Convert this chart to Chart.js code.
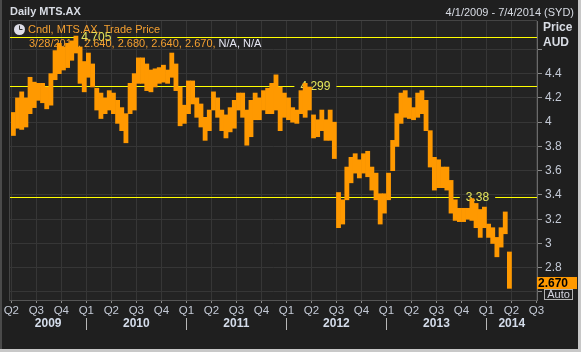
<!DOCTYPE html>
<html>
<head>
<meta charset="utf-8">
<script src="https://cdn.jsdelivr.net/npm/chart.js@4.4.1/dist/chart.umd.min.js"></script>
<style>
  html, body { margin: 0; padding: 0; background: #1f1f1f; }
  canvas { display: block; }
</style>
</head>
<body>
<canvas id="chart" width="581" height="352"></canvas>
<script>
// MTS.AX trade price, low/high per half-month from Apr 2009
const lows = [
  3.89, 3.95, 3.94, 3.96, 4.07, 4.12, 4.18, 4.16, 4.11, 4.14,
  4.35, 4.40, 4.43, 4.45, 4.51, 4.57, 4.32, 4.25, 4.37, 4.29,
  4.10, 4.03, 4.07, 4.10, 4.07, 3.99, 3.93, 3.83, 4.07, 4.10,
  4.32, 4.32, 4.26, 4.25, 4.29, 4.32, 4.33, 4.32, 4.37, 4.26,
  3.97, 3.99, 4.07, 4.15, 4.04, 3.96, 3.85, 3.93, 4.10, 4.04,
  3.93, 3.87, 3.92, 3.95, 4.10, 4.04, 3.81, 3.88, 4.02, 4.02,
  4.10, 4.07, 4.07, 4.10, 3.93, 4.04, 4.02, 4.00, 3.99, 4.07,
  4.04, 4.10, 3.87, 3.88, 3.93, 3.85, 3.85, 3.70, 3.13, 3.16,
  3.36, 3.50, 3.58, 3.54, 3.58, 3.55, 3.44, 3.36, 3.16, 3.25,
  3.36, 3.60, 3.80, 3.99, 4.04, 4.03, 4.02, 4.04, 4.07, 3.93,
  3.63, 3.44, 3.46, 3.46, 3.44, 3.25, 3.19, 3.18, 3.18, 3.20,
  3.19, 3.13, 3.05, 3.13, 3.05, 3.00, 2.89, 2.97, 3.08, 2.63
];
const highs = [
  4.08, 4.20, 4.25, 4.20, 4.37, 4.33, 4.32, 4.32, 4.29, 4.40,
  4.59, 4.65, 4.62, 4.65, 4.67, 4.71, 4.62, 4.50, 4.57, 4.48,
  4.28, 4.24, 4.20, 4.26, 4.24, 4.18, 4.12, 4.07, 4.32, 4.40,
  4.53, 4.53, 4.48, 4.43, 4.44, 4.45, 4.47, 4.43, 4.57, 4.48,
  4.29, 4.14, 4.34, 4.34, 4.20, 4.15, 4.04, 4.10, 4.25, 4.20,
  4.10, 4.06, 4.12, 4.18, 4.24, 4.24, 4.10, 4.18, 4.24, 4.20,
  4.26, 4.28, 4.32, 4.39, 4.29, 4.24, 4.20, 4.12, 4.10, 4.26,
  4.32, 4.29, 4.06, 4.02, 4.10, 4.02, 4.10, 4.00, 3.42, 3.36,
  3.63, 3.71, 3.74, 3.69, 3.74, 3.76, 3.63, 3.58, 3.41, 3.41,
  3.58, 3.85, 4.07, 4.24, 4.26, 4.20, 4.12, 4.24, 4.26, 4.18,
  3.93, 3.71, 3.69, 3.63, 3.63, 3.52, 3.36, 3.29, 3.29, 3.29,
  3.37, 3.33, 3.28, 3.30, 3.16, 3.13, 3.05, 3.13, 3.26, 2.93
];
const years = [2009, 2010, 2011, 2012, 2013, 2014];
const yTicks = [2.6, 2.8, 3.0, 3.2, 3.4, 3.6, 3.8, 4.0, 4.2, 4.4, 4.6];
const levels = [4.705, 4.299, 3.38];
const levelLabels = ['4.705', '4.299', '3.38'];
const levelLabelAt = [2010.10, 2012.29, 2013.91];
const lastPrice = 2.670;
const legendValues = ['3/28/2014', '2.640', '2.680', '2.640', '2.670'];

// half-month periods starting 1 Apr 2009 (as fractional years)
const periods = lows.map((_, i) => 2009.25 + (i + 0.5) / 24);
const quarterTicks = [];
for (const yr of years) {
  for (let q = 0; q < 4; q++) {
    const v = yr + q / 4;
    if (v >= 2009.25 && v <= 2014.5) quarterTicks.push(v);
  }
}

const FONT = '"Liberation Sans", Arial, sans-serif';
const ORANGE = '#ff9900';
const X_MIN = 2009.237, X_MAX = 2014.505;

const decorations = {
  id: 'decorations',
  beforeDraw(chart) {
    const { ctx, chartArea: a } = chart;
    ctx.save();
    ctx.fillStyle = '#1f1f1f';
    ctx.fillRect(0, 0, 581, 352);
    ctx.fillStyle = '#4a4a4a';
    ctx.fillRect(0, 0, 2, 349);
    ctx.fillStyle = '#c8c8c8';
    ctx.fillRect(578, 0, 3, 352);
    ctx.fillRect(0, 349, 581, 3);
    ctx.fillStyle = '#232323';
    ctx.fillRect(a.left, a.top, a.right - a.left, a.bottom - a.top);
    ctx.strokeStyle = '#444';
    ctx.lineWidth = 1;
    ctx.strokeRect(a.left - 0.5, a.top - 0.5, a.right - a.left, a.bottom - a.top + 1);
    ctx.restore();
  },
  beforeDatasetsDraw(chart) {
    const { ctx, chartArea: a, scales: { x, y } } = chart;
    ctx.save();
    // horizontal levels with their labels
    ctx.font = '12px ' + FONT;
    ctx.textBaseline = 'middle';
    ctx.textAlign = 'center';
    levels.forEach((v, i) => {
      const py = Math.round(y.getPixelForValue(v)) + 0.5;
      const cx = x.getPixelForValue(levelLabelAt[i]);
      const w = ctx.measureText(levelLabels[i]).width;
      ctx.strokeStyle = '#ffff00';
      ctx.lineWidth = 1;
      ctx.beginPath();
      ctx.moveTo(a.left, py);
      ctx.lineTo(cx - w / 2 - 6, py);
      ctx.moveTo(cx + w / 2 + 6, py);
      ctx.lineTo(a.right, py);
      ctx.stroke();
      ctx.fillStyle = '#e4e65a';
      ctx.fillText(levelLabels[i], cx, py);
    });

    // legend: clock icon + series name + last values
    ctx.fillStyle = '#dcdce6';
    ctx.beginPath();
    ctx.arc(19.5, 29.5, 5.5, 0, Math.PI * 2);
    ctx.fill();
    ctx.strokeStyle = '#333';
    ctx.beginPath();
    ctx.moveTo(19.5, 29.5); ctx.lineTo(19.5, 25.5);
    ctx.moveTo(19.5, 29.5); ctx.lineTo(22.5, 29.5);
    ctx.stroke();

    ctx.textAlign = 'left';
    ctx.font = '11px ' + FONT;
    ctx.fillStyle = '#f5a030';
    ctx.fillText('Cndl, MTS.AX, Trade Price', 28, 30);
    const vals = legendValues.join(', ') + ', ';
    ctx.fillText(vals, 29, 44);
    const w = ctx.measureText(vals).width;
    ctx.fillStyle = '#e6e6f2';
    ctx.fillText('N/A, N/A', 29 + w, 44);
    ctx.restore();
  },
  afterDraw(chart) {
    const { ctx, scales: { x, y } } = chart;
    ctx.save();
    ctx.textBaseline = 'middle';
    // header
    ctx.font = 'bold 11px ' + FONT;
    ctx.fillStyle = '#d8dce4';
    ctx.textAlign = 'left';
    ctx.fillText('Daily MTS.AX', 10, 12);
    ctx.font = '11px ' + FONT;
    ctx.textAlign = 'right';
    ctx.fillText('4/1/2009 - 7/4/2014 (SYD)', 574, 13);
    // axis title
    ctx.font = 'bold 12px ' + FONT;
    ctx.textAlign = 'left';
    ctx.fillText('Price', 543, 28);
    ctx.fillText('AUD', 543, 43);

    // year row
    ctx.textAlign = 'center';
    ctx.font = 'bold 12px ' + FONT;
    ctx.fillStyle = '#d4dcea';
    ctx.strokeStyle = '#b8b8b8';
    ctx.lineWidth = 1;
    years.forEach(yr => {
      const s = Math.max(yr, X_MIN), e = Math.min(yr + 1, X_MAX);
      const cx = (x.getPixelForValue(s) + x.getPixelForValue(e)) / 2;
      ctx.fillText(String(yr), cx, 324);
      if (yr > years[0]) {
        const px = Math.round(x.getPixelForValue(yr)) + 0.5;
        ctx.beginPath();
        ctx.moveTo(px, 318);
        ctx.lineTo(px, 330);
        ctx.stroke();
      }
    });

    // last price box
    const py = y.getPixelForValue(lastPrice) - 1;
    ctx.fillStyle = ORANGE;
    ctx.fillRect(537, Math.round(py - 6), 40, 12);
    ctx.fillStyle = '#000';
    ctx.textAlign = 'left';
    ctx.font = 'bold 12px ' + FONT;
    ctx.fillText(lastPrice.toFixed(3), 538, Math.round(py) + 0.5);
    // Auto box
    ctx.strokeStyle = '#b4b4b4';
    ctx.strokeRect(544.5, 289.5, 28, 10);
    ctx.fillStyle = '#d6d6e0';
    ctx.font = '11px ' + FONT;
    ctx.textAlign = 'center';
    ctx.fillText('Auto', 558.5, 295);
    ctx.restore();
  }
};

const noPad = s => { s.paddingLeft = 0; s.paddingRight = 0; s.paddingTop = 0; s.paddingBottom = 0; };

new Chart(document.getElementById('chart'), {
  type: 'bar',
  data: {
    datasets: [{
      label: 'MTS.AX',
      data: periods.map((t, i) => ({ x: t, y: [lows[i], highs[i]] })),
      backgroundColor: ORANGE,
      borderWidth: 0,
      barPercentage: 1,
      categoryPercentage: 1,
      grouped: false
    }]
  },
  options: {
    responsive: false,
    animation: false,
    layout: { padding: { left: 10, top: 21, right: 0, bottom: 0 } },
    plugins: { legend: { display: false }, tooltip: { enabled: false } },
    scales: {
      x: {
        type: 'linear',
        offset: false,
        min: X_MIN,
        max: X_MAX,
        afterBuildTicks: s => { s.ticks = quarterTicks.map(v => ({ value: v })); },
        afterFit: s => { s.height = 52; noPad(s); },
        ticks: {
          callback: v => 'Q' + (Math.round((v - Math.floor(v)) * 4) + 1),
          color: '#c4cad6',
          font: { family: FONT, size: 11.5 },
          padding: 1,
          maxRotation: 0,
          autoSkip: false
        },
        grid: { offset: false, color: '#363636', tickColor: '#8a8a8a', tickLength: 3 },
        border: { color: '#555' }
      },
      y: {
        position: 'right',
        min: 2.534,
        max: 4.834,
        afterBuildTicks: s => { s.ticks = yTicks.map(v => ({ value: v })); },
        afterFit: s => { s.width = 44; noPad(s); },
        ticks: {
          callback: v => (v < 2.7 || v > 4.5) ? '' : String(+v.toFixed(1)),
          color: '#c4cad6',
          font: { family: FONT, size: 12 },
          padding: 3
        },
        grid: { color: '#363636', tickColor: '#8a8a8a', tickLength: 5 },
        border: { color: '#6a6a6a' }
      }
    }
  },
  plugins: [decorations]
});
</script>
</body>
</html>
